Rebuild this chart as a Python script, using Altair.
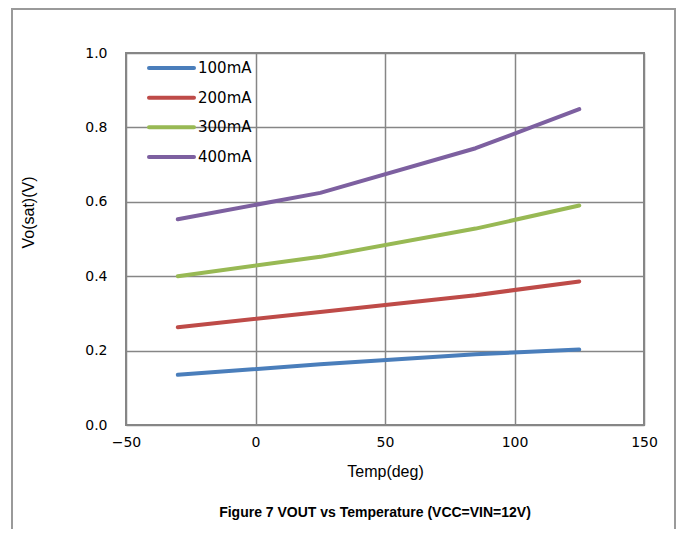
import altair as alt
import pandas as pd

temps = [-30, 25, 85, 125]
series_names = ["100mA", "200mA", "300mA", "400mA"]
v100 = [0.135, 0.163, 0.190, 0.203]
v200 = [0.263, 0.304, 0.349, 0.386]
v300 = [0.400, 0.452, 0.528, 0.590]
v400 = [0.553, 0.624, 0.744, 0.849]
colors = ["#4A7EBB", "#BE4B48", "#98B954", "#7D60A0"]

rows = []
for name, vals in zip(series_names, [v100, v200, v300, v400]):
    for t, v in zip(temps, vals):
        rows.append({"Temp": t, "V": v, "Series": name})
df = pd.DataFrame(rows)
leg_df = pd.DataFrame({"Series": series_names})

W, H = 518, 372

color_enc = alt.Color("Series:N", scale=alt.Scale(domain=series_names, range=colors), legend=None)

lines = alt.Chart(df).mark_line(strokeWidth=4, strokeCap="round", strokeJoin="round").encode(
    x=alt.X("Temp:Q", scale=alt.Scale(domain=[-50, 150], nice=False),
            axis=alt.Axis(values=[-50, 0, 50, 100, 150], title="Temp(deg)", format="d",
                          labelPadding=10, titlePadding=14, labelFlush=False)),
    y=alt.Y("V:Q", scale=alt.Scale(domain=[0, 1], nice=False),
            axis=alt.Axis(values=[0, 0.2, 0.4, 0.6, 0.8, 1.0], format=".1f", title="Vo(sat)(V)",
                          labelPadding=19, titlePadding=48, titleY=159, labelFlush=False)),
    color=color_enc,
)

leg_y = alt.Y("Series:N", scale=alt.Scale(type="point", domain=series_names, range=[15, 104], padding=0),
              axis=None)

leg_lines = alt.Chart(leg_df).mark_rule(strokeWidth=4, strokeCap="round").encode(
    x=alt.value(23), x2=alt.value(68), y=leg_y, color=color_enc
)
leg_text = alt.Chart(leg_df).mark_text(align="left", baseline="middle", font="DejaVu Sans",
                                       fontSize=15, color="#000").encode(
    x=alt.value(72), y=leg_y, text="Series:N"
)

frame = alt.Chart(pd.DataFrame({"a": [0]})).mark_rect(fill=None, stroke="#9a9a9a", strokeWidth=2).encode(
    x=alt.value(-114), x2=alt.value(549), y=alt.value(-44), y2=alt.value(490)
)

legend = alt.layer(leg_lines, leg_text)

chart = alt.layer(frame, lines, legend).resolve_scale(y="independent").properties(
    width=W, height=H,
    padding={"left": 118, "top": 45, "right": 32, "bottom": 104},
    autosize=alt.AutoSizeParams(type="none"),
    title=alt.Title("Figure 7 VOUT vs Temperature (VCC=VIN=12V)", orient="bottom", anchor="middle",
                    fontSize=14, font="Liberation Sans", fontWeight="bold", offset=-38, dx=-10, color="#000"),
).configure_view(stroke="#868686", strokeWidth=2).configure_axis(
    grid=True, gridColor="#868686", gridWidth=1.5, domain=False, ticks=False,
    labelFont="DejaVu Sans", labelFontSize=14, labelColor="#000",
    titleFont="Liberation Sans", titleFontSize=16, titleFontWeight="normal", titleColor="#000",
)

chart.save("out.html", embed_options={"renderer": "svg", "actions": False})
